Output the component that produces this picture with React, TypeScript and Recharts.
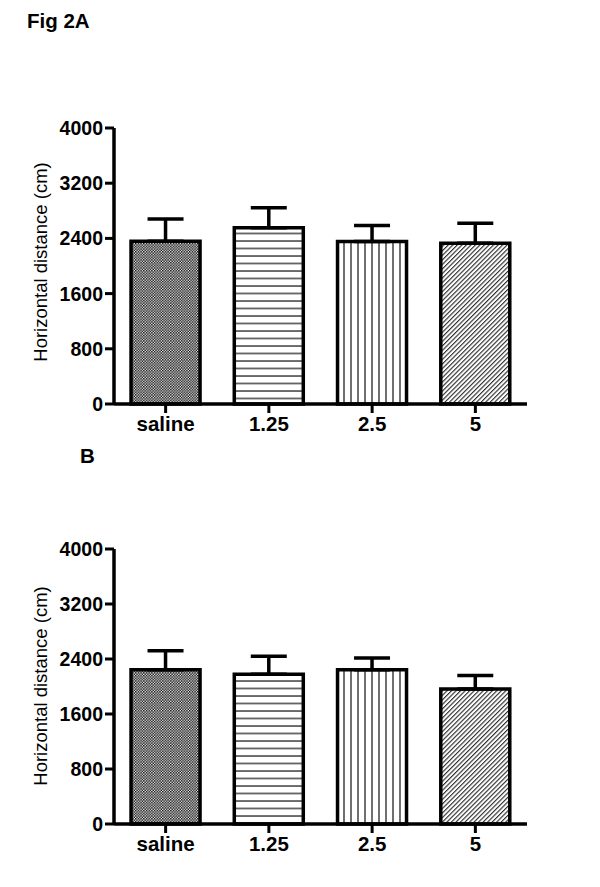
import React from 'react';
import { BarChart, Bar, XAxis, YAxis, ErrorBar, Cell } from 'recharts';

const categories = ['saline', '1.25', '2.5', '5'];
const meansA = [2360, 2555, 2355, 2330];
const semA = [320, 290, 232, 290];
const meansB = [2245, 2180, 2245, 1965];
const semB = [275, 260, 170, 195];
const yTicks = [0, 800, 1600, 2400, 3200, 4000];
const patterns = ['url(#pChecker)', 'url(#pHoriz)', 'url(#pVert)', 'url(#pDiag)'];

const FONT = "Arial, 'Liberation Sans', Helvetica, sans-serif";

const buildData = (means: number[], sems: number[]) =>
  categories.map((c, i) => ({ name: c, value: means[i], err: [0, sems[i]] }));

const Defs = () => (
  <defs>
    <pattern id="pChecker" width="2.7" height="2.7" patternUnits="userSpaceOnUse">
      <rect width="2.7" height="2.7" fill="#fff" />
      <rect x="0" y="0" width="1.45" height="1.45" fill="#000" />
      <rect x="1.35" y="1.35" width="1.45" height="1.45" fill="#000" />
    </pattern>
    <pattern id="pHoriz" width="8" height="7.5" patternUnits="userSpaceOnUse">
      <rect width="8" height="7.5" fill="#fff" />
      <line x1="0" y1="1" x2="8" y2="1" stroke="#222" strokeWidth="1.3" />
    </pattern>
    <pattern id="pVert" width="7" height="8" patternUnits="userSpaceOnUse">
      <rect width="7" height="8" fill="#fff" />
      <line x1="1" y1="0" x2="1" y2="8" stroke="#222" strokeWidth="1.3" />
    </pattern>
    <pattern id="pDiag" width="3.2" height="6" patternUnits="userSpaceOnUse" patternTransform="rotate(45)">
      <rect width="3.2" height="6" fill="#fff" />
      <line x1="0.6" y1="0" x2="0.6" y2="6" stroke="#111" strokeWidth="1" />
    </pattern>
  </defs>
);

const Panel = ({ means, sems, height, top }: { means: number[]; sems: number[]; height: number; top: number }) => {
  const data = buildData(means, sems);
  return (
    <BarChart
      width={600}
      height={height}
      data={data}
      margin={{ top, right: 73, bottom: 16, left: 34 }}
      barCategoryGap="16.5%"
    >
      <Defs />
      <XAxis
        dataKey="name"
        height={30}
        axisLine={{ stroke: '#000', strokeWidth: 3.5 }}
        tickLine={{ stroke: '#000', strokeWidth: 3 }}
        tickSize={9}
        tickMargin={3}
        tick={{ fill: '#000', fontSize: 20.5, fontWeight: 'bold', fontFamily: FONT }}
      />
      <YAxis
        width={80}
        domain={[0, 4000]}
        ticks={yTicks}
        interval={0}
        axisLine={{ stroke: '#000', strokeWidth: 3.5 }}
        tickLine={{ stroke: '#000', strokeWidth: 3 }}
        tickSize={9}
        tickMargin={2}
        tick={{ fill: '#000', fontSize: 19.5, fontWeight: 'bold', fontFamily: FONT }}
      />
      <Bar dataKey="value" stroke="#000" strokeWidth={3.5} isAnimationActive={false}>
        {data.map((d, i) => (
          <Cell key={d.name} fill={patterns[i]} />
        ))}
        <ErrorBar dataKey="err" width={18} stroke="#000" strokeWidth={3.5} direction="y" isAnimationActive={false} />
      </Bar>
    </BarChart>
  );
};

export default function App() {
  return (
    <div style={{ position: 'absolute', left: 0, top: 0, width: 600, height: 887, background: '#fff', fontFamily: FONT }}>
      <div style={{ position: 'absolute', left: 0, top: 0 }}>
        <Panel means={meansA} sems={semA} height={450} top={128} />
      </div>
      <div style={{ position: 'absolute', left: 0, top: 440 }}>
        <Panel means={meansB} sems={semB} height={430} top={109} />
      </div>
      <svg width={600} height={887} style={{ position: 'absolute', left: 0, top: 0, pointerEvents: 'none' }}>
        <text x={27} y={28} fontSize={20.5} fontWeight="bold" fontFamily={FONT} fill="#000">Fig 2A</text>
        <text x={80} y={463} fontSize={20.5} fontWeight="bold" fontFamily={FONT} fill="#000">B</text>
        <text
          x={40}
          y={262}
          transform="rotate(-90, 40, 262)"
          textAnchor="middle"
          dominantBaseline="central"
          fontSize={18.5}
          fontFamily={FONT}
          fill="#000"
        >
          Horizontal distance (cm)
        </text>
        <text
          x={40}
          y={686}
          transform="rotate(-90, 40, 686)"
          textAnchor="middle"
          dominantBaseline="central"
          fontSize={18.5}
          fontFamily={FONT}
          fill="#000"
        >
          Horizontal distance (cm)
        </text>
      </svg>
    </div>
  );
}
